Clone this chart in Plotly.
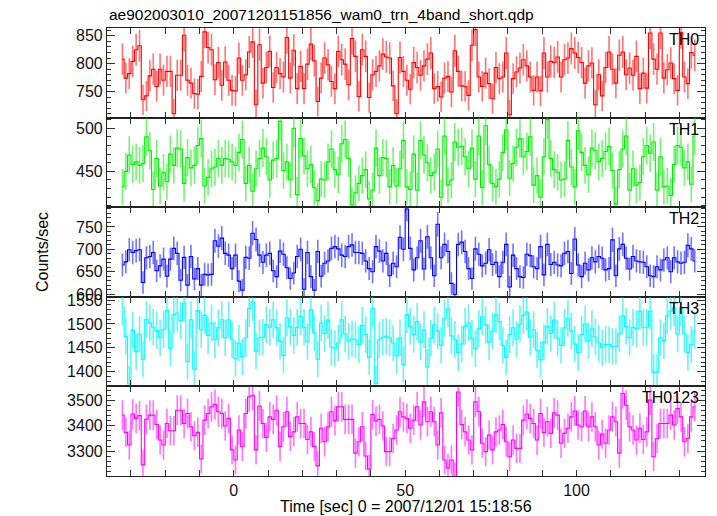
import numpy as np
import plotly.graph_objects as go
from plotly.subplots import make_subplots

T_START = -33.0
BIN = 1.0

th0 = [808,774,782,804,825,832,735,742,778,790,759,790,770,786,786,710,779,779,851,770,
       765,746,745,777,857,829,825,771,802,761,803,770,752,751,810,770,780,821,839,726,
       834,765,793,822,757,793,782,776,847,774,824,755,795,755,799,835,805,732,774,810,
       798,768,755,822,807,799,762,845,813,741,825,813,739,780,786,796,817,812,810,760,
       710,811,786,770,
       754,802,793,779,796,808,819,755,759,740,774,777,749,823,786,760,759,743,833,861,
       776,759,783,764,737,793,773,776,819,708,773,785,792,807,796,776,752,776,751,819,
       776,804,802,812,776,807,810,827,819,811,802,765,796,801,726,780,742,793,821,790,
       765,815,821,780,792,779,813,755,783,756,855,808,790,855,774,789,801,773,752,856,
       776,764,820,815]

th1 = [432,450,469,458,461,457,459,490,474,429,465,433,449,438,470,457,477,476,436,466,
       454,457,480,488,433,443,453,455,465,457,465,464,461,457,472,487,436,457,427,453,
       465,477,467,440,463,465,508,451,461,440,500,423,488,468,453,458,431,416,441,440,
       461,476,452,446,482,487,465,411,425,436,445,452,418,428,477,445,466,465,432,457,
       433,453,486,
       432,429,470,428,486,469,460,445,449,476,420,491,434,440,484,478,479,467,453,477,
       441,491,431,503,458,436,432,441,472,498,442,459,478,488,467,473,490,434,445,420,
       467,510,465,452,449,440,441,486,455,432,497,472,457,446,477,474,461,465,473,479,
       451,412,452,476,491,428,453,434,437,467,480,471,484,428,467,432,433,422,458,480,
       478,454,461,435,491]

th2 = [665,672,699,693,697,699,626,681,684,693,652,663,678,640,678,702,691,631,682,620,
       684,634,657,620,644,643,644,719,707,725,691,687,657,687,629,609,682,680,736,722,
       687,671,687,691,652,639,696,689,659,635,647,684,700,611,693,639,609,695,640,669,
       674,702,706,701,687,684,706,710,693,693,691,674,657,650,706,696,674,691,641,669,
       661,727,700,
       790,702,654,681,719,656,728,681,641,756,681,711,695,624,599,711,716,695,657,635,
       701,689,663,669,699,666,671,639,671,711,616,687,657,639,637,689,686,661,657,706,
       643,711,666,671,665,663,691,695,646,723,665,639,669,654,681,672,684,680,654,657,
       721,641,701,711,680,656,684,674,672,671,661,641,639,661,654,676,681,650,681,672,
       669,671,709,701,674]

th3 = [1535,1474,1374,1487,1442,1479,1426,1510,1502,1493,1486,1471,1488,1528,1449,1519,1523,1507,1544,1421,
       1509,1405,1528,1488,1518,1476,1502,1467,1492,1509,1471,1509,1467,1427,1460,1431,1471,1533,1546,1443,
       1471,1472,1499,1493,1509,1492,1464,1434,1513,1494,1476,1493,1516,1493,1463,1530,1481,1426,1502,1480,
       1508,1451,1449,1460,1509,1479,1464,1469,1467,1457,1497,1478,1430,1533,1375,1467,1472,1474,1471,1460,
       1433,1471,1415,
       1520,1495,1478,1505,1462,1488,1410,1470,1498,1485,1455,1512,1532,1475,1468,1440,1458,1495,1502,1470,
       1448,1490,1515,1498,1462,1485,1520,1505,1455,1430,1478,1492,1468,1500,1518,1525,1472,1488,1445,1425,
       1462,1495,1480,1508,1470,1455,1492,1512,1485,1458,1440,1478,1500,1465,1490,1472,1460,
       1450,1457,1457,1453,1453,1479,1517,1495,1471,1493,1490,1527,1493,1493,1527,1399,1399,1471,1465,1517,
       1527,1534,1479,1534,1479,1440,1457,1486]

th0123 = [3442,3374,3324,3446,3429,3440,3246,3425,3442,3442,3405,3344,3324,3409,3380,3380,3461,3461,3409,3448,
          3396,3361,3374,3269,3422,3448,3475,3484,3455,3448,3399,3429,3305,3265,3383,3318,3448,3514,3520,3305,
          3478,3409,3354,3435,3425,3461,3318,3396,3455,3357,3376,3435,3409,3409,3346,3376,3318,3242,3390,3337,
          3396,3455,3420,3475,3475,3425,3425,3425,3292,3337,3396,3281,3229,3444,3418,3425,3399,3298,3298,3350,
          3383,3455,3435,3429,3390,3422,3475,3403,3494,3416,3455,3416,3324,3451,3265,3233,3265,3200,3533,3405,
          3376,3344,3305,3494,3455,3331,3298,3363,3305,3376,3383,3405,3337,3278,3344,3311,3311,3422,3446,3429,
          3409,3344,3448,3373,3416,3370,3451,3442,3331,3370,3390,3435,3458,3403,3396,3458,3396,3435,3396,3324,
          3367,3331,3383,3435,3416,3292,3527,3481,3396,3383,3344,3390,3346,3376,3501,3278,3350,3409,3409,3409,
          3442,3403,3468,3435,3337,3350,3435,3475]

series = [("TH0", th0, "#ff0000", "rgba(255,0,0,0.55)", [703, 864], 50, 10),
          ("TH1", th1, "#00ee00", "rgba(0,235,0,0.55)", [408.4, 512.4], 50, 10),
          ("TH2", th2, "#0000ff", "rgba(0,0,255,0.55)", [594, 794], 50, 10),
          ("TH3", th3, "#00ffff", "rgba(0,235,235,0.6)", [1369, 1557], 50, 10),
          ("TH0123", th0123, "#ff00ff", "rgba(255,0,255,0.55)", [3202, 3555], 100, 20)]

fig = make_subplots(rows=5, cols=1, shared_xaxes=True, vertical_spacing=0)
FONT = "Liberation Sans, Arial, Helvetica, sans-serif"

for k, (name, vals, col, ecol, yr, dt, mdt) in enumerate(series):
    v = np.array(vals, dtype=float)
    t = T_START + BIN * (np.arange(len(v)) + 0.5)
    err = np.sqrt(v * BIN) / BIN
    fig.add_trace(go.Scatter(x=t, y=v, mode="lines", line=dict(color=col, width=1.1, shape="hvh"),
                             error_y=dict(type="data", array=err, visible=True, color=ecol,
                                          thickness=1.6, width=0),
                             showlegend=False, hoverinfo="skip"), row=k + 1, col=1)
    fig.update_yaxes(range=yr, dtick=dt, tick0=0, ticks="inside", ticklen=8, tickwidth=1,
                     tickcolor="#333", showline=True, linecolor="#222", linewidth=1.2, mirror="ticks",
                     showgrid=False, zeroline=False,
                     tickfont=dict(family=FONT, size=16, color="#111"),
                     minor=dict(dtick=mdt, ticks="inside", ticklen=4, tickcolor="#333", showgrid=False),
                     row=k + 1, col=1)
    fig.update_xaxes(range=[-37, 137.5], dtick=50, tick0=0, ticks="inside", ticklen=6, tickwidth=1,
                     tickcolor="#333", showline=True, linecolor="#222", linewidth=1, mirror="ticks",
                     showgrid=False, zeroline=False, showticklabels=(k == 4),
                     tickfont=dict(family=FONT, size=16, color="#111"),
                     minor=dict(dtick=10, ticks="inside", ticklen=6, tickcolor="#333", showgrid=False),
                     row=k + 1, col=1)
    top = 1 - k / 5
    fig.add_annotation(text=name, xref="paper", yref="paper", x=0.9935, y=top, xanchor="right",
                       yanchor="top", yshift=-1, showarrow=False,
                       font=dict(family=FONT, size=16, color="#000"))

fig.add_annotation(text="ae902003010_20071201151856_wam0_trn_4band_short.qdp", xref="paper", yref="paper",
                   x=0, y=1.031, xanchor="left", yanchor="middle", showarrow=False,
                   font=dict(family=FONT, size=15.5, color="#000"))
fig.add_annotation(text="Counts/sec", xref="paper", yref="paper", x=-0.1087, y=0.5, textangle=-90,
                   xanchor="center", yanchor="middle", showarrow=False,
                   font=dict(family=FONT, size=16, color="#000"))
fig.add_annotation(text="Time [sec] 0 = 2007/12/01 15:18:56", xref="paper", yref="paper", x=0.5,
                   y=-0.067, xanchor="center", yanchor="middle", showarrow=False,
                   font=dict(family=FONT, size=16, color="#000"))

fig.update_layout(width=717, height=516, margin=dict(l=107, r=12, t=28, b=40),
                  paper_bgcolor="white", plot_bgcolor="white")
fig.write_html("out.html", config={"displayModeBar": False},
               post_script="document.body.style.margin='0';")
